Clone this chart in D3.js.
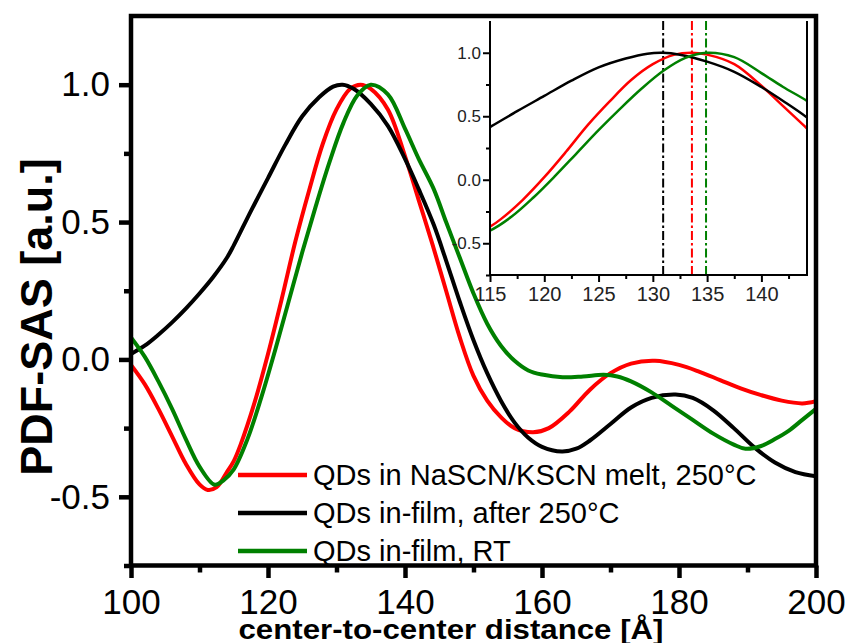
<!DOCTYPE html>
<html lang="en">
<head>
<meta charset="UTF-8">
<title>PDF-SAS center-to-center distance</title>
<style>
    body {
        margin: 0;
        background: #ffffff;
    }
    svg {
        display: block;
        font-family: Arial, 'Liberation Sans', sans-serif;
    }
</style>
</head>
<body>
<svg width="848" height="643"></svg>
<script src="https://d3js.org/d3.v7.min.js"></script>
<script>
// Series: distance [Å] and normalised PDF-SAS
var distRed = [100, 102, 104, 106, 108, 110, 111.2, 112.5, 114, 115, 116, 118, 120, 122, 124, 126, 128, 130, 132, 133.5,
               135, 137.5, 140, 142, 144, 146, 148, 150, 152, 154, 156, 158.7, 161, 164, 167, 170, 173, 176.5, 180,
               183, 186, 189, 192, 195, 198, 200];
var pdfRed = [-0.02, -0.09, -0.18, -0.28, -0.38, -0.455, -0.475, -0.465, -0.41, -0.37, -0.31, -0.16, 0.02, 0.22, 0.43, 0.615, 0.785, 0.91, 0.985, 1.0,
              0.985, 0.91, 0.74, 0.58, 0.42, 0.25, 0.08, -0.06, -0.15, -0.21, -0.25, -0.265, -0.25, -0.19, -0.11, -0.05, -0.015, -0.005, -0.02,
              -0.045, -0.075, -0.105, -0.13, -0.15, -0.16, -0.152];

var distBlack = [100, 102, 104, 106, 108, 110, 112, 114, 115, 117.5, 120, 122.5, 125, 127.5, 129.5, 130.9, 132.5, 135, 137.5, 140,
                 142, 144.2, 146, 148, 150, 152, 154, 156, 158, 160, 162.9, 165, 167, 170, 173, 176, 179.5, 182, 185, 188,
                 191, 194, 197, 200];
var pdfBlack = [0.02, 0.05, 0.09, 0.135, 0.185, 0.24, 0.3, 0.37, 0.415, 0.54, 0.66, 0.78, 0.885, 0.955, 0.993, 1.0, 0.985, 0.93, 0.85, 0.73,
                0.62, 0.49, 0.36, 0.21, 0.07, -0.05, -0.15, -0.23, -0.285, -0.318, -0.335, -0.325, -0.295, -0.235, -0.175, -0.14, -0.128, -0.14, -0.185, -0.25,
                -0.32, -0.375, -0.41, -0.425];

var distGreen = [100, 102, 104, 106, 108, 110, 112.2, 113.5, 115, 117, 119, 121, 123, 125, 127, 129, 131, 133, 135, 137.5,
                 140, 142, 144.2, 146, 148, 150, 152, 154, 156, 158, 160, 163, 166, 169, 171, 173, 176, 179, 182, 185,
                 188, 189.7, 192, 194, 196, 198, 200];
var pdfGreen = [0.08, 0.01, -0.08, -0.18, -0.29, -0.39, -0.456, -0.44, -0.40, -0.29, -0.14, 0.03, 0.21, 0.39, 0.56, 0.72, 0.86, 0.96, 1.0, 0.965,
                0.84, 0.73, 0.62, 0.5, 0.37, 0.24, 0.13, 0.05, -0.005, -0.04, -0.055, -0.065, -0.062, -0.056, -0.062, -0.08, -0.12, -0.17, -0.22, -0.27,
                -0.31, -0.325, -0.315, -0.29, -0.26, -0.22, -0.18];

var seriesNames = ["QDs in NaSCN/KSCN melt, 250\u00B0C", "QDs in-film, after 250\u00B0C", "QDs in-film, RT"];
var seriesColors = ["#ff0000", "#000000", "#008000"];
var peakPositions = [133.6, 130.95, 134.9];   // red, black, green (inset markers)

// tick values
var xMajor = [100, 120, 140, 160, 180, 200];
var xMinor = [110, 130, 150, 170, 190];
var yMajor = [-0.5, 0, 0.5, 1.0];
var yMinor = [-0.75, -0.25, 0.25, 0.75];
var xInsetMajor = [115, 120, 125, 130, 135, 140];
var xInsetMinor = [117.5, 122.5, 127.5, 132.5, 137.5, 142.5];

var series = [
    {dist: distRed, pdf: pdfRed},
    {dist: distBlack, pdf: pdfBlack},
    {dist: distGreen, pdf: pdfGreen}
];
series.forEach(function(s, i) {
    s.name = seriesNames[i];
    s.color = seriesColors[i];
    s.points = d3.zip(s.dist, s.pdf);
});

var svg = d3.select("svg");
var fmt = function(d) { return d.toFixed(1); };

// ---------- main plot ----------
var x = d3.scaleLinear().domain([100, 200]).range([131, 816]);
var y = d3.scaleLinear().domain([-0.75, 1.25]).range([565.5, 16]);

svg.append("clipPath").attr("id", "mainClip")
    .append("rect")
    .attr("x", x(100)).attr("y", y(1.25))
    .attr("width", x(200) - x(100)).attr("height", y(-0.75) - y(1.25));

function styleAxis(g, size, width) {
    g.select(".domain").remove();
    g.selectAll(".tick line").attr("stroke", "#000").attr("stroke-width", width);
    g.selectAll(".tick text").attr("fill", "#000").attr("font-size", size)
        .attr("font-family", "Arial, 'Liberation Sans', sans-serif");
    g.attr("font-family", null).attr("font-size", null);
}

svg.append("g").attr("transform", "translate(0," + y(-0.75) + ")")
    .call(d3.axisBottom(x).tickValues(xMinor).tickSize(7).tickFormat(""))
    .call(styleAxis, "35px", 4.5);
svg.append("g").attr("transform", "translate(0," + y(-0.75) + ")")
    .call(d3.axisBottom(x).tickValues(xMajor).tickSize(12.5).tickPadding(11).tickFormat(d3.format("d")))
    .call(styleAxis, "35px", 4.5);
svg.append("g").attr("transform", "translate(" + x(100) + ",0)")
    .call(d3.axisLeft(y).tickValues(yMinor).tickSize(7).tickFormat(""))
    .call(styleAxis, "35px", 4.5);
svg.append("g").attr("transform", "translate(" + x(100) + ",0)")
    .call(d3.axisLeft(y).tickValues(yMajor).tickSize(12).tickPadding(9).tickFormat(fmt))
    .call(styleAxis, "35px", 4.5);

var line = d3.line()
    .x(function(d) { return x(d[0]); })
    .y(function(d) { return y(d[1]); })
    .curve(d3.curveCatmullRom.alpha(0.5));

svg.append("g").attr("clip-path", "url(#mainClip)")
    .selectAll("path")
    .data(series)
    .enter().append("path")
    .attr("fill", "none")
    .attr("stroke", function(d) { return d.color; })
    .attr("stroke-width", 4)
    .attr("stroke-linejoin", "round")
    .attr("d", function(d) { return line(d.points); });

// frame
svg.append("rect")
    .attr("x", x(100)).attr("y", y(1.25))
    .attr("width", x(200) - x(100)).attr("height", y(-0.75) - y(1.25))
    .attr("fill", "none").attr("stroke", "#000").attr("stroke-width", 4.5);

// axis titles
svg.append("text")
    .attr("transform", "translate(52,317) rotate(-90)")
    .attr("text-anchor", "middle")
    .attr("font-size", "45px").attr("font-weight", "bold")
    .text("PDF-SAS [a.u.]");
svg.append("text")
    .attr("x", 451).attr("y", 639)
    .attr("text-anchor", "middle")
    .attr("font-size", "27px").attr("font-weight", "bold")
    .attr("textLength", 425).attr("lengthAdjust", "spacingAndGlyphs")
    .text("center-to-center distance [\u00C5]");

// legend
var legend = svg.append("g").selectAll("g")
    .data(series)
    .enter().append("g")
    .attr("transform", function(d, i) { return "translate(0," + (38 * i) + ")"; });
legend.append("line")
    .attr("x1", 238).attr("x2", 307).attr("y1", 475).attr("y2", 475)
    .attr("stroke", function(d) { return d.color; })
    .attr("stroke-width", 4.5);
legend.append("text")
    .attr("x", 313).attr("y", 485)
    .attr("font-size", "29px")
    .text(function(d) { return d.name; });

// ---------- inset ----------
var xi = d3.scaleLinear().domain([115, 144.2]).range([490, 807]);
var yi = d3.scaleLinear().domain([-0.75, 1.25]).range([275, 21]);

var inset = svg.append("g");
inset.append("rect")
    .attr("x", xi(115)).attr("y", yi(1.25))
    .attr("width", xi(144.2) - xi(115)).attr("height", yi(-0.75) - yi(1.25))
    .attr("fill", "#fff");
inset.append("clipPath").attr("id", "insetClip")
    .append("rect")
    .attr("x", xi(115)).attr("y", yi(1.25))
    .attr("width", xi(144.2) - xi(115)).attr("height", yi(-0.75) - yi(1.25));

inset.append("g").attr("transform", "translate(0," + yi(-0.75) + ")")
    .call(d3.axisBottom(xi).tickValues(xInsetMinor).tickSize(4).tickFormat(""))
    .call(styleAxis, "20px", 2);
inset.append("g").attr("transform", "translate(0," + yi(-0.75) + ")")
    .call(d3.axisBottom(xi).tickValues(xInsetMajor).tickSize(7).tickPadding(5).tickFormat(d3.format("d")))
    .call(styleAxis, "20px", 2);
inset.append("g").attr("transform", "translate(" + xi(115) + ",0)")
    .call(d3.axisLeft(yi).tickValues(yMinor).tickSize(4).tickFormat(""))
    .call(styleAxis, "17px", 2);
inset.append("g").attr("transform", "translate(" + xi(115) + ",0)")
    .call(d3.axisLeft(yi).tickValues(yMajor).tickSize(7).tickPadding(2).tickFormat(fmt))
    .call(styleAxis, "17px", 2);
inset.selectAll(".tick text").attr("fill", "#222");

var insetLine = d3.line()
    .x(function(d) { return xi(d[0]); })
    .y(function(d) { return yi(d[1]); })
    .curve(d3.curveCatmullRom.alpha(0.5));

var insetPlot = inset.append("g").attr("clip-path", "url(#insetClip)");

insetPlot.selectAll("line.peak")
    .data(series)
    .enter().append("line")
    .attr("class", "peak")
    .attr("x1", function(d, i) { return xi(peakPositions[i]); })
    .attr("x2", function(d, i) { return xi(peakPositions[i]); })
    .attr("y1", yi(-0.75)).attr("y2", yi(1.25))
    .attr("stroke", function(d) { return d.color; })
    .attr("stroke-width", 2)
    .attr("stroke-dasharray", "9,3,2.5,3");

insetPlot.selectAll("path")
    .data(series)
    .enter().append("path")
    .attr("fill", "none")
    .attr("stroke", function(d) { return d.color; })
    .attr("stroke-width", 2.5)
    .attr("d", function(d) { return insetLine(d.points); });

// inset frame: left, bottom and right sides
inset.append("path")
    .attr("d", "M" + xi(115) + "," + yi(1.25) + "V" + yi(-0.75) + "H" + xi(144.2) + "V" + yi(1.25))
    .attr("fill", "none").attr("stroke", "#000").attr("stroke-width", 2);
</script>
</body>
</html>
